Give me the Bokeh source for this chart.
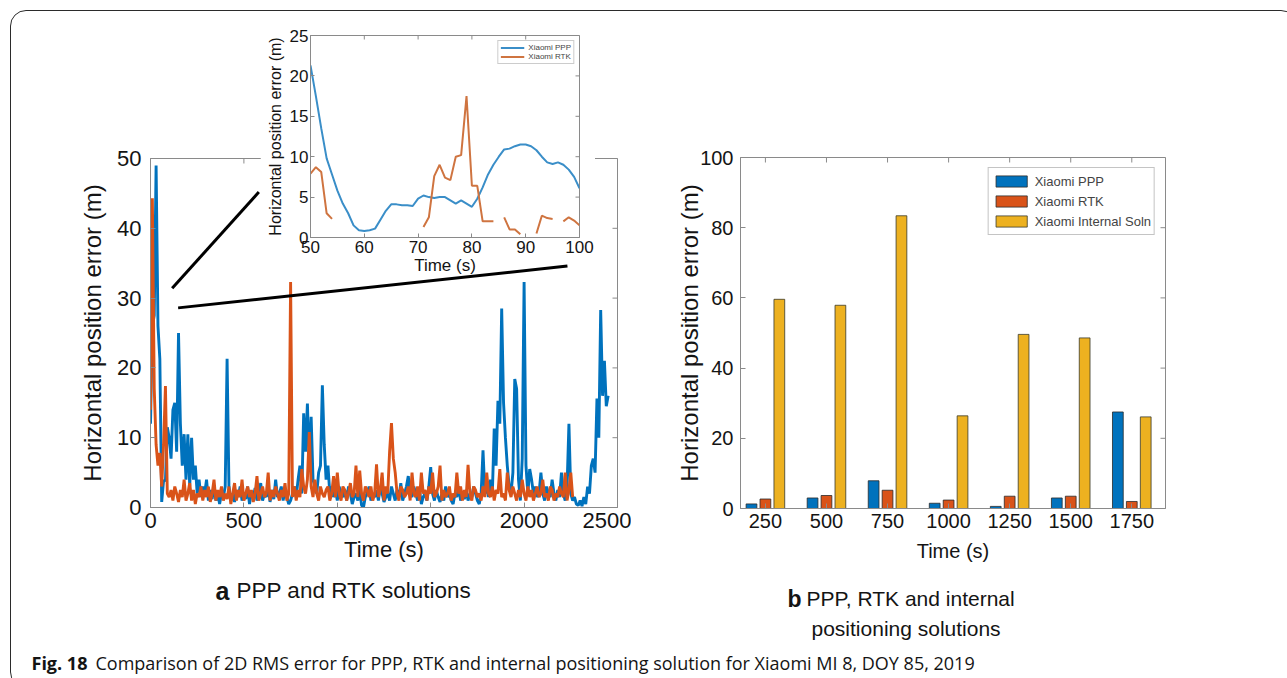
import numpy as np
from bokeh.plotting import figure
from bokeh.models import (Range1d, FixedTicker, Legend, LegendItem,
                          Label, Div, Column, ColumnDataSource)
from bokeh.transform import dodge
from bokeh.embed import file_html
from bokeh.resources import INLINE

NaN = float("nan")

# ---------------- data ----------------
# (a) full time series, sampled every 10 s
ppp_time = list(range(0, 2451, 10))
ppp_error = [
    12, 26, 27.5, 49, 26, 21.3, 0.8, 3.9, 3.8, 11.5,
    10, 7, 14, 15, 8, 25, 12, 6, 10.5, 4,
    10.5, 3, 10, 4, 6, 2, 4, 1.5, 3, 2,
    4, 1, 2.5, 1.2, 3, 1, 2, 0.5, 2, 1.5,
    3, 21.3, 3, 1, 2, 0.8, 2.5, 1.5, 3, 1,
    2, 1.2, 3, 0.5, 2.2, 1.5, 2.8, 1, 2, 3.5,
    1, 2, 1.5, 3, 0.8, 2.5, 1.2, 4, 1.5, 2,
    3, 1, 2.5, 1.5, 0.5, 1, 2, 3, 1.5, 4,
    6, 2, 13.5, 8, 14.9, 6, 13, 4, 3, 2,
    5, 6, 17.5, 9, 4, 6, 2, 3, 1.5, 2.5,
    1, 3, 2, 1.5, 2.5, 1, 3, 2, 0.5, 1.5,
    2, 1, 2.5, 0.3, 0, 1.5, 2, 3, 1, 2,
    1.5, 2.5, 1, 3, 2, 0.8, 1.5, 2, 1, 3,
    2, 1, 2.5, 1.5, 3.5, 1, 2, 3, 4.5, 2,
    1.5, 3, 2, 1, 2.5, 0.5, 1.5, 2, 1, 3,
    5.8, 2, 1, 2.5, 1.5, 0.8, 2, 1, 3, 1.5,
    2, 1, 0.5, 2, 1.5, 3, 1, 2, 1.2, 2.5,
    1, 2, 1.5, 3, 2, 1, 0.5, 2, 8.2, 2,
    3, 1.5, 4, 2, 11.3, 6, 15.3, 12, 28.5, 15,
    10, 6, 3, 2, 5, 18.4, 17, 4, 1, 7,
    32.3, 6, 2, 5.5, 4, 2, 3, 1.5, 2, 5,
    2, 1, 3, 2, 1.5, 4, 2, 1, 2.5, 1.5,
    5, 2, 1, 3, 12, 2, 1, 1.5, 0.5, 0.3,
    1, 0.2, 1.5, 0.5, 3, 2, 6, 7, 5, 15.6,
    10, 28.3, 16, 21, 14.5, 16,
]
rtk_time = list(range(0, 2261, 10))
rtk_error = [
    14, 44.3, 17, 9, 6, 7.8, 3, 9, 17.4, 2,
    1.5, 2.5, 1, 3, 2, 0.8, 2.5, 1.5, 4, 1,
    2, 3.5, 1, 2.5, 0.5, 2, 1.5, 3, 1, 2.5,
    1.5, 3, 0.8, 2, 4, 1, 2.5, 1.5, 3, 1,
    2, 1.2, 3, 0.5, 2, 3.5, 1, 2.5, 1.5, 4,
    1, 2, 3, 1.5, 2.5, 0.8, 2, 4.5, 1, 2,
    3, 1.5, 2, 5, 1, 2.5, 1.5, 3, 2, 1,
    2.5, 1.5, 3.5, 1, 2, 32.3, 1.5, 3, 1, 2.5,
    1.5, 5.5, 3, 2, 4, 10.8, 3, 1.5, 4, 2,
    1, 3, 2, 1.5, 2.5, 3, 1, 2, 4.5, 1.5,
    5, 2, 1, 3, 2.5, 1, 2, 3.5, 1.5, 2,
    6, 1.5, 5.3, 2, 1, 3, 2.5, 1.5, 3, 1,
    2, 6.2, 1.5, 2.5, 5, 1, 3, 2, 8, 12.1,
    7, 5, 2, 1, 3, 2.5, 1.5, 2, 3, 1,
    5, 2, 1.5, 3, 1, 5, 2, 2.5, 1, 3,
    2, 5, 1.5, 2, 3, 6, 1, 2.5, 1.5, 2,
    3, 1, 2, 1.5, 5, 2, 3, 1, 2.5, 1.5,
    6.1, 2, 1, 3, 2.5, 1.5, 2, 1, 3, 1.5,
    5, 2, 1.5, 3, 1, 2.5, 2, 5.5, 1.5, 2,
    1, 5, 2.5, 1.5, 3, 2, 1, 2.5, 1.5, 4,
    2, 1, 3, 1.5, 2.5, 1, 2, 3, 1.5, 2,
    4, 1.5, 2, 1, 3, 2.5, 1, 2, 1.5, 3,
    2, 1.5, 5, 1, 2.5, 5, 1.5,
]

# (a) inset, 50-100 s at 1 s
inset_time = list(range(50, 101))
inset_ppp = [21.3, 17.5, 13.5, 9.8, 7.8, 5.8, 4.2, 3.0, 1.5, 0.9,
             0.8, 0.9, 1.1, 2.2, 3.3, 4.1, 4.1, 4.0, 4.0, 3.9,
             4.8, 5.2, 5.0, 4.9, 5.0, 5.0, 4.6, 4.2, 4.6, 4.2,
             3.8, 4.8, 6.2, 7.8, 9.0, 10.0, 10.9, 11.0, 11.3, 11.5,
             11.5, 11.3, 10.8, 10.0, 9.3, 9.1, 9.3, 9.0, 8.4, 7.5, 6.1]
inset_rtk = [7.9, 8.7, 8.1, 3.0, 2.3,
             NaN, NaN, NaN, NaN, NaN, NaN, NaN, NaN, NaN, NaN, NaN, NaN, NaN, NaN, NaN, NaN,
             1.3, 2.5, 7.6, 9.0, 7.4, 7.1, 10.0, 10.2, 17.5, 6.4, 6.4, 2.0, 2.0, 2.0,
             NaN, 2.5, 1.0, 1.0, 0.4, NaN, NaN, 0.5, 2.7, 2.4, 2.3, NaN, 2.0, 2.5, 2.1, 1.5]

# (b) bar chart
bar_time = [250, 500, 750, 1000, 1250, 1500, 1750]
bar_ppp = [1.3, 3.0, 7.9, 1.5, 0.6, 3.0, 27.5]
bar_rtk = [2.7, 3.7, 5.2, 2.4, 3.5, 3.5, 2.0]
bar_internal = [59.6, 57.9, 83.4, 26.4, 49.6, 48.6, 26.1]

series_names = ["Xiaomi PPP", "Xiaomi RTK", "Xiaomi Internal Soln"]

# zoom connector lines (data units of panel a)
zoom_x0 = [116, 148]
zoom_y0 = [31.4, 28.6]
zoom_x1 = [580, 2232]
zoom_y1 = [45.2, 34.6]

a_xticks = [0, 500, 1000, 1500, 2000, 2500]
a_yticks = [0, 10, 20, 30, 40, 50]
i_xticks = [50, 60, 70, 80, 90, 100]
i_yticks = [0, 5, 10, 15, 20, 25]
b_yticks = [0, 20, 40, 60, 80, 100]

# ---------------- style ----------------
BLUE = "#0072BD"
ORANGE = "#D95319"
YELLOW = "#EDB120"
BLUE_L = "#3a8ec8"
ORANGE_L = "#cf7440"
AXC = "#8a8a8a"
TXT = "#141414"
FONT = "Liberation Sans"


def place(left, top):
    return {"position": "absolute", "left": f"{left}px", "top": f"{top}px"}


def style_ax(ax, ticks, size, standoff, tick_len=5):
    ax.ticker = FixedTicker(ticks=ticks)
    ax.axis_line_color = AXC
    ax.major_tick_line_color = AXC
    ax.major_tick_in = tick_len
    ax.major_tick_out = 0
    ax.minor_tick_line_color = None
    ax.major_label_text_font = FONT
    ax.major_label_text_font_size = size
    ax.major_label_text_color = TXT
    ax.major_label_standoff = standoff
    ax.axis_label_text_font = FONT
    ax.axis_label_text_font_style = "normal"
    ax.axis_label_text_color = TXT


def mirror_ticks(p, xticks, yticks, xmax, ymax, tick_len=5):
    # MATLAB-style inward ticks on the top and right edges (half of each dash is clipped)
    p.scatter(x=xticks, y=[ymax] * len(xticks), marker="dash", angle=np.pi / 2,
              size=2 * tick_len, line_color=AXC, line_width=1)
    p.scatter(x=[xmax] * len(yticks), y=yticks, marker="dash",
              size=2 * tick_len, line_color=AXC, line_width=1)


# ---------------- background (captions) ----------------
bg = figure(width=1287, height=678, x_range=Range1d(0, 1287), y_range=Range1d(678, 0),
            min_border=0, x_axis_type=None, y_axis_type=None, outline_line_color=None,
            background_fill_alpha=0, border_fill_alpha=0, toolbar_location=None,
            frame_align=False, output_backend="svg", styles=place(0, 0))
bg.grid.visible = False


def add_label(text, x, y, size, bold=False, font=FONT):
    bg.add_layout(Label(x=x, y=y, text=text, text_font=font, text_font_size=size,
                        text_font_style="bold" if bold else "normal", text_color=TXT,
                        text_baseline="middle", text_align="left"))


add_label("a", 215, 590, "25px", True)
add_label("PPP and RTK solutions", 236, 590, "22.5px")
add_label("b", 787, 598, "23px", True)
add_label("PPP, RTK and internal", 806, 598, "21px")
add_label("positioning solutions", 811, 628, "21px")
add_label("Fig. 18", 31, 662, "18px", True, "Open Sans")
add_label("Comparison of 2D RMS error for PPP, RTK and internal positioning solution for "
          "Xiaomi MI 8, DOY 85, 2019", 95, 662, "18px", False, "Open Sans")

# ---------------- panel a ----------------
common_a = dict(frame_width=467, frame_height=349, min_border_left=80, min_border_right=14,
                min_border_top=20, min_border_bottom=70, toolbar_location=None,
                frame_align=False, output_backend="svg", styles=place(70, 138))
pa = figure(x_range=Range1d(0, 2500), y_range=Range1d(0, 50), outline_line_color=AXC,
            background_fill_color="white", border_fill_color="white", **common_a)
pa.grid.visible = False
style_ax(pa.xaxis[0], a_xticks, "22px", 5)
style_ax(pa.yaxis[0], a_yticks, "22px", 9)
pa.xaxis[0].axis_label = "Time (s)"
pa.xaxis[0].axis_label_text_font_size = "22px"
pa.xaxis[0].axis_label_standoff = 6
pa.yaxis[0].axis_label = "Horizontal position error (m)"
pa.yaxis[0].axis_label_text_font_size = "24px"
pa.yaxis[0].axis_label_standoff = 8
mirror_ticks(pa, a_xticks, a_yticks, 2500, 50)
pa.line(ppp_time, ppp_error, line_color=BLUE, line_width=2.9)
pa.line(rtk_time, rtk_error, line_color=ORANGE, line_width=2.9)

# ---------------- inset ----------------
pi = figure(frame_width=269, frame_height=202, x_range=Range1d(50, 100), y_range=Range1d(0, 25),
            min_border_left=50, min_border_right=16, min_border_top=10, min_border_bottom=42,
            outline_line_color=AXC, background_fill_color="white", border_fill_color="white",
            toolbar_location=None, frame_align=False, output_backend="svg", styles=place(260, 25))
pi.grid.visible = False
style_ax(pi.xaxis[0], i_xticks, "17px", 3, 4)
style_ax(pi.yaxis[0], i_yticks, "17px", 2, 4)
pi.xaxis[0].axis_label = "Time (s)"
pi.xaxis[0].axis_label_text_font_size = "17px"
pi.xaxis[0].axis_label_standoff = 0
pi.yaxis[0].axis_label = "Horizontal position error (m)"
pi.yaxis[0].axis_label_text_font_size = "16px"
pi.yaxis[0].axis_label_standoff = 3
mirror_ticks(pi, i_xticks, i_yticks, 100, 25, 4)
isrc = ColumnDataSource(dict(t=np.array(inset_time, dtype=float),
                             ppp=np.array(inset_ppp, dtype=float),
                             rtk=np.array(inset_rtk, dtype=float)))
ri1 = pi.line("t", "ppp", source=isrc, line_color=BLUE_L, line_width=2)
ri2 = pi.line("t", "rtk", source=isrc, line_color=ORANGE_L, line_width=2)
ileg = Legend(items=[LegendItem(label=series_names[0], renderers=[ri1]),
                     LegendItem(label=series_names[1], renderers=[ri2])],
              location="top_right", margin=5, padding=2, spacing=0,
              label_text_font=FONT, label_text_font_size="8px", label_height=9,
              glyph_height=9, glyph_width=24, label_standoff=4,
              border_line_color="#9a9a9a", border_line_width=1, background_fill_alpha=1)
pi.add_layout(ileg)

# ---------------- overlay: zoom connector lines ----------------
po = figure(x_range=pa.x_range, y_range=pa.y_range, x_axis_type=None, y_axis_type=None,
            outline_line_color=None, background_fill_alpha=0, border_fill_alpha=0, **common_a)
po.grid.visible = False
po.segment(x0=zoom_x0, y0=zoom_y0, x1=zoom_x1, y1=zoom_y1, line_color="black", line_width=3)

# ---------------- panel b ----------------
pb = figure(frame_width=425, frame_height=351, x_range=Range1d(148, 1888), y_range=Range1d(0, 100),
            min_border_left=82, min_border_right=14, min_border_top=10, min_border_bottom=70,
            outline_line_color=AXC, background_fill_color="white", border_fill_color="white",
            toolbar_location=None, frame_align=False, output_backend="svg", styles=place(658, 147))
pb.grid.visible = False
style_ax(pb.xaxis[0], bar_time, "20px", 5)
style_ax(pb.yaxis[0], b_yticks, "20px", 7)
pb.xaxis[0].axis_label = "Time (s)"
pb.xaxis[0].axis_label_text_font_size = "20px"
pb.xaxis[0].axis_label_standoff = 9
pb.yaxis[0].axis_label = "Horizontal position error (m)"
pb.yaxis[0].axis_label_text_font_size = "24px"
pb.yaxis[0].axis_label_standoff = -6
bsrc = ColumnDataSource(dict(t=bar_time, ppp=bar_ppp, rtk=bar_rtk, internal=bar_internal))
rb1 = pb.vbar(x=dodge("t", -57, range=pb.x_range), top="ppp", width=44, source=bsrc,
              fill_color=BLUE, line_color="#2a2a2a", line_width=0.8)
rb2 = pb.vbar(x=dodge("t", 0, range=pb.x_range), top="rtk", width=44, source=bsrc,
              fill_color=ORANGE, line_color="#2a2a2a", line_width=0.8)
rb3 = pb.vbar(x=dodge("t", 57, range=pb.x_range), top="internal", width=44, source=bsrc,
              fill_color=YELLOW, line_color="#3a3a2a", line_width=0.8)
mirror_ticks(pb, bar_time, b_yticks, 1888, 100)
bleg = Legend(items=[LegendItem(label=series_names[0], renderers=[rb1]),
                     LegendItem(label=series_names[1], renderers=[rb2]),
                     LegendItem(label=series_names[2], renderers=[rb3])],
              location="top_right", margin=10, padding=3, spacing=0,
              label_text_font=FONT, label_text_font_size="13px", label_height=20,
              glyph_height=14, glyph_width=39, label_standoff=4,
              border_line_color="#8a8a8a", border_line_width=1)
pb.add_layout(bleg)

# ---------------- frame border & root ----------------
border = Div(text="", width=1320, height=720, margin=0,
             styles={"position": "absolute", "left": "10px", "top": "10px",
                     "border": "1.6px solid #2b2b2b", "border-radius": "16px",
                     "box-sizing": "border-box", "padding": "0px"})

root = Column(children=[border, bg, pa, pi, po, pb], width=1287, height=678,
              styles={"position": "relative", "overflow": "hidden"})

open("out.html", "w").write(file_html(root, INLINE))
